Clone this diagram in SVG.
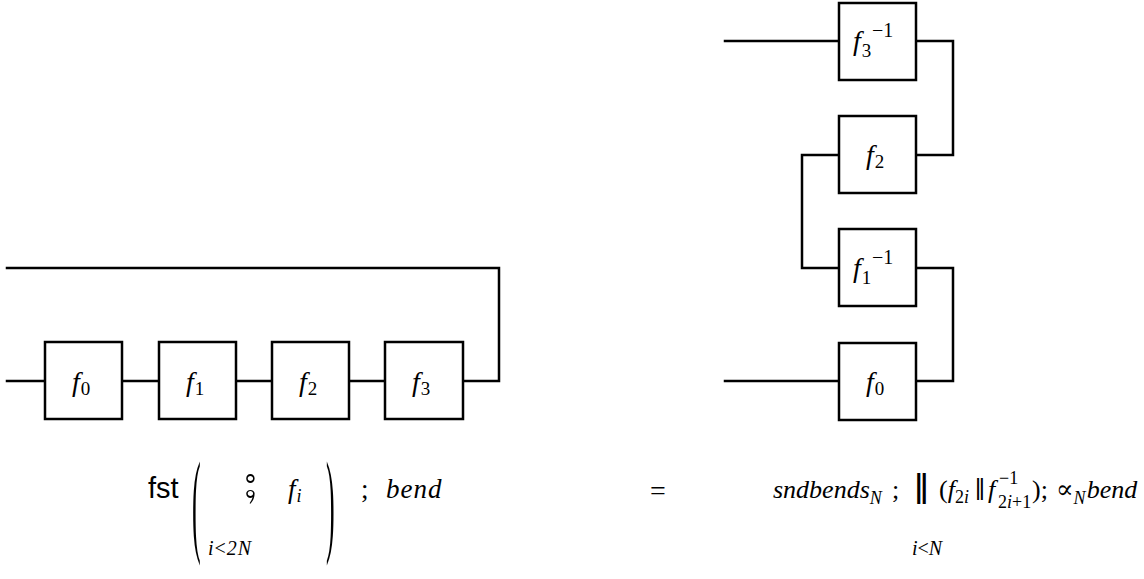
<svg xmlns="http://www.w3.org/2000/svg" width="1144" height="579" viewBox="0 0 1144 579">
  <style>
    .box { fill: #fff; stroke: #000; stroke-width: 2.5; }
    .wire { fill: none; stroke: #000; stroke-width: 2.5; stroke-linecap: square; stroke-linejoin: miter; }
    .it { font-family: "Liberation Serif", "DejaVu Serif", serif; font-style: italic; fill: #000; }
    .rm { font-family: "Liberation Serif", "DejaVu Serif", serif; font-style: normal; fill: #000; }
    .sf { font-family: "Liberation Sans", "DejaVu Sans", sans-serif; fill: #000; }
    .lbl { font-size: 28px; }
    .sub { font-size: 19px; }
    .math { font-size: 27px; }
    .rmath { font-size: 26px; }
    .small { font-size: 18px; }
    .lim { font-size: 20px; }
    .sup { font-size: 20px; }
  </style>

  <rect width="1144" height="579" fill="#fff"/>

  <!-- wiring -->
  <g id="connectors">
    <!-- left: sequential chain with bend back -->
    <path class="wire" d="M7,381 H45"/>
    <path class="wire" d="M122,381 H159"/>
    <path class="wire" d="M236,381 H272"/>
    <path class="wire" d="M349,381 H385"/>
    <path class="wire" d="M463,381 H499 V268 H7"/>
    <!-- right: stacked zig-zag -->
    <path class="wire" d="M725,41 H839"/>
    <path class="wire" d="M916,41 H953 V155 H916"/>
    <path class="wire" d="M839,155 H802 V268 H839"/>
    <path class="wire" d="M916,268 H953 V381 H916"/>
    <path class="wire" d="M725,381 H839"/>
  </g>

  <!-- left chain -->
  <g id="l-f0">
    <rect class="box" x="45" y="342" width="77" height="77"/>
    <text class="it lbl" x="72" y="391">f<tspan class="rm sub" dx="1" dy="4">0</tspan></text>
  </g>
  <g id="l-f1">
    <rect class="box" x="159" y="342" width="77" height="77"/>
    <text class="it lbl" x="186" y="391">f<tspan class="rm sub" dx="1" dy="4">1</tspan></text>
  </g>
  <g id="l-f2">
    <rect class="box" x="272" y="342" width="77" height="77"/>
    <text class="it lbl" x="299" y="391">f<tspan class="rm sub" dx="1" dy="4">2</tspan></text>
  </g>
  <g id="l-f3">
    <rect class="box" x="385" y="342" width="78" height="77"/>
    <text class="it lbl" x="412" y="391">f<tspan class="rm sub" dx="1" dy="4">3</tspan></text>
  </g>

  <!-- right stack -->
  <g id="r-f3inv">
    <rect class="box" x="839" y="3" width="77" height="77"/>
    <text class="it lbl" x="853" y="50">f<tspan class="rm sub" dx="1" dy="7">3</tspan></text>
    <text class="rm sup" x="872" y="37">−1</text>
  </g>
  <g id="r-f2">
    <rect class="box" x="839" y="116" width="77" height="77"/>
    <text class="it lbl" x="866" y="164">f<tspan class="rm sub" dx="1" dy="4">2</tspan></text>
  </g>
  <g id="r-f1inv">
    <rect class="box" x="839" y="229" width="77" height="77"/>
    <text class="it lbl" x="853" y="277">f<tspan class="rm sub" dx="1" dy="7">1</tspan></text>
    <text class="rm sup" x="872" y="264">−1</text>
  </g>
  <g id="r-f0">
    <rect class="box" x="839" y="343" width="77" height="77"/>
    <text class="it lbl" x="866" y="391">f<tspan class="rm sub" dx="1" dy="4">0</tspan></text>
  </g>

  <!-- equation: left-hand side -->
  <g id="lhs">
    <text class="sf" font-size="29" x="148" y="498">fst</text>
    <text class="rm" font-size="26" transform="translate(192,541) scale(1,4.4)">(</text>
    <text class="rm" font-size="74" x="243" y="498">⨾</text>
    <text class="it math" x="288" y="498">f<tspan class="small" dx="1" dy="4">i</tspan></text>
    <text class="it lim" x="208" y="555" letter-spacing="1">i<tspan class="rm">&lt;</tspan>2N</text>
    <text class="rm" font-size="26" transform="translate(326,541) scale(1,4.4)">)</text>
    <text class="rm math" x="361" y="498">;</text>
    <text class="it math" x="386" y="498" letter-spacing="1">bend</text>
  </g>

  <text class="rm" font-size="28" x="650" y="500">=</text>

  <!-- equation: right-hand side -->
  <g id="rhs">
    <text class="it rmath" x="773" y="498">sndbends<tspan class="small" dy="6">N</tspan></text>
    <text class="rm rmath" x="892" y="498">;</text>
    <text class="sf" font-size="26" font-weight="bold" transform="translate(915,504) scale(1,1.6)">‖</text>
    <text class="it lim" x="912" y="555">i<tspan class="rm">&lt;</tspan>N</text>
    <text class="rm rmath" x="939" y="498">(<tspan class="it">f</tspan><tspan class="rm small" dy="5">2</tspan><tspan class="it small">i</tspan></text>
    <text class="sf" font-size="24" transform="translate(975,500) scale(1,1.25)">‖</text>
    <text class="it rmath" x="988" y="498">f</text>
    <text class="rm small" x="999" y="484">−1</text>
    <text class="rm small" x="998" y="508">2<tspan class="it">i</tspan>+1</text>
    <text class="rm rmath" x="1032" y="498">);</text>
    <text class="rm rmath" x="1056" y="498">∝<tspan class="it small" dy="6">N</tspan><tspan class="it" dy="-6" dx="1">bend</tspan></text>
  </g>
</svg>
